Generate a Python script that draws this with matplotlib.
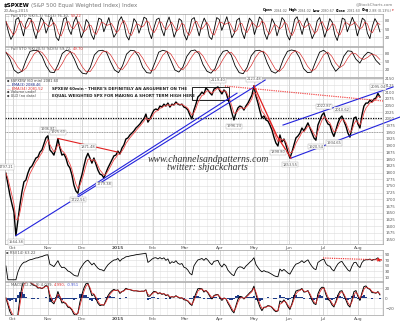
import numpy as np
import pandas as pd
import matplotlib
matplotlib.use('Agg')
import matplotlib.pyplot as plt
from matplotlib.patches import Rectangle

W, H = 400, 323

# 60 min closes of $SPXEW, late Sep 2014 .. 20 Aug 2015 (thinned)
close = np.array([
    1797.21, 1757, 1716, 1683, 1653, 1564.38, 1623, 1679, 1727, 1765,
    1772, 1798, 1817, 1824, 1839, 1854, 1858, 1876, 1884, 1906,
    1929, 1936.81, 1884, 1876, 1865, 1891, 1925.60, 1891, 1865, 1869,
    1854, 1828, 1817, 1791, 1753, 1731, 1722.56, 1765, 1791, 1824,
    1854, 1871.48, 1854, 1835, 1854, 1832, 1809, 1794, 1791, 1779.38,
    1798, 1817, 1832, 1847, 1862, 1865, 1880, 1869, 1891, 1903,
    1925, 1929, 1940, 1947, 1955, 1966, 1973, 1981, 1992, 2000,
    2018, 1988, 2000, 2018, 2033, 2037, 2033, 2048, 2044, 2055,
    2048, 2059, 2044, 2055, 2052, 2063, 2055, 2052, 2055, 2044,
    2041, 2033, 2014, 2000, 2033, 2055, 2082, 2089, 2100, 2093,
    2115, 2108, 2097, 2089, 2111, 2115, 2119.40, 2104, 2093, 2108,
    2100, 2074, 2052, 2022, 1996.24, 2022, 2041, 2048, 2044, 2033,
    2048, 2059, 2074, 2089, 2123.48, 2085, 2059, 2029, 2003, 2011,
    1996, 1992, 1977, 1959, 1932, 1910, 1898.80, 1940, 1914, 1925,
    1903, 1876, 1853.55, 1876, 1903, 1929, 1936, 1947, 1966, 1955,
    1970, 1985, 1966, 1947, 1929, 1920.54, 1977, 1996, 2014, 2022.87,
    1996, 1981, 1977, 1951, 1934.65, 1959, 1985, 2003, 2010.62, 1992,
    1973, 1947, 1932, 1966, 2003, 2007, 1981, 1966, 2014, 2048,
    2059, 2059, 2070, 2063, 2074, 2078, 2095.04, 2081.60])
# days after 1 Oct 2014, hourly bars evenly spaced
day = np.linspace(-6.2, 323.0, len(close))

# fast stochastic %K (top pane) and slow stochastic %K (second pane)
fast_k = [78, 40, 12, 30, 85, 92, 60, 25, 70, 90, 88, 45, 15, 55, 92, 80, 35, 60, 94, 70,
          20, 8, 45, 88, 92, 50, 30, 75, 95, 60, 18, 40, 85, 72, 30, 12, 50, 90, 85, 40,
          65, 92, 55, 20, 35, 80, 95, 70, 25, 10, 45, 88, 75, 35, 60, 93, 88, 40, 15, 55,
          85, 90, 50, 25, 70, 94, 62, 20, 45, 88, 80, 30, 10, 40, 85, 92, 58, 25, 65, 90,
          70, 22, 12, 50, 92, 85, 45, 70, 95, 60, 18, 35, 82, 90, 40, 15, 55, 90, 78, 30,
          60, 94, 85, 35, 12, 45, 88, 70, 25, 55, 92, 80, 28, 10, 40, 85, 95, 65, 30, 70,
          90, 50, 15, 35, 80, 92, 60, 20, 50, 88, 75, 30, 8, 45, 90, 85, 40, 65, 93, 70,
          25, 55, 90, 82, 35, 15, 60, 88, 72, 40]
slow_k = [85, 60, 20, 8, 15, 55, 88, 92, 90, 70, 35, 12, 10, 40, 80, 92, 88, 60, 25, 8,
          5, 30, 75, 90, 92, 85, 50, 20, 10, 35, 78, 92, 90, 70, 30, 10, 8, 45, 85, 92,
          88, 55, 20, 12, 30, 70, 90, 93, 80, 40, 15, 8, 25, 65, 88, 92, 75, 35, 10, 6,
          30, 72, 90, 92, 85, 45, 15, 8, 20, 60, 88, 93, 90, 65, 25, 10, 12, 50, 85, 92,
          80, 40, 15, 30, 70, 90, 88, 60, 45, 70, 85, 80, 55, 40]
fast_day = np.linspace(-6.2, 323.0, len(fast_k))
slow_day = np.linspace(-6.2, 323.0, len(slow_k))

month_days = [0, 31, 61, 92, 123, 151, 182, 212, 243, 273, 304]
month_names = ['Oct', 'Nov', 'Dec', '2015', 'Feb', 'Mar', 'Apr', 'May', 'Jun', 'Jul', 'Aug']
week_days = np.arange(-4, 326, 7)
price_ticks = np.arange(1550, 2151, 25)

# turning points that get a value tag
tag_idx = [0, 5, 21, 26, 36, 41, 49, 106, 114, 124, 136, 142, 155, 159, 164, 168, 186]
tag_up = [1, 0, 1, 1, 0, 1, 0, 1, 0, 1, 0, 0, 0, 1, 0, 1, 1]

# hand drawn trendlines (day, price)
blue_long = ([2.6, 222.0], [1564.4, 2145.0])
blue_short = ([57.2, 197.2], [1716.0, 2096.0])
red_dec = ([39.6, 92.4], [1927.0, 1876.0])
red_top = ([186.6, 325.7], [2122.6, 2066.7])
red_may = ([212.1, 232.4, 244.7], [2123.5, 1936.0, 1854.0])
chan_low = ([244.7, 340.7], [1853.6, 2007.0])
chan_high = ([237.7, 334.5], [1977.0, 2119.0])
level_black = 2003.3
level_gray = 1952.0
box_days = (157.6, 190.1)
box_prices = (2070.4, 2118.9)
rsi_arrow = ([272.9, 324.8], [79.0, 72.0])

# indicators
s = pd.Series(close)
ema = s.ewm(span=3, adjust=False).mean()
fast_d = pd.Series(fast_k).rolling(3, min_periods=1).mean()
slow_d = pd.Series(slow_k).rolling(3, min_periods=1).mean()

delta = s.diff().fillna(0)
gain = delta.clip(lower=0).ewm(alpha=1 / 6, adjust=False).mean()
loss = (-delta.clip(upper=0)).ewm(alpha=1 / 6, adjust=False).mean()
rsi = (100 - 100 / (1 + gain / loss.replace(0, np.nan))).fillna(50)

macd = s.ewm(span=2, adjust=False).mean() - s.ewm(span=5, adjust=False).mean()
signal = macd.ewm(span=2, adjust=False).mean()
hist = macd - signal

fig = plt.figure(figsize=(4, 3.23), dpi=100)
fig.patch.set_facecolor('white')


def panel(top, bottom):
    return fig.add_axes([5 / W, 1 - bottom / H, 378 / W, (bottom - top) / H])


axA = panel(14, 46)
axB = panel(47, 77)
ax = panel(78, 244)
axR = panel(250, 281)
axM = panel(282, 315)

for a in (axA, axB, ax, axR, axM):
    a.set_xlim(-7.0, 325.7)
    a.set_xticks(month_days)
    a.set_xticks(week_days, minor=True)
    a.grid(which='major', axis='x', color='#c4c4c4', lw=0.5)
    a.grid(which='minor', axis='x', color='#e6e6e6', lw=0.4)
    a.grid(which='major', axis='y', color='#dadada', lw=0.4)
    a.yaxis.tick_right()
    a.tick_params(which='both', length=0, labelbottom=False, labelleft=False,
                  labelright=True, labelsize=3, labelcolor='#555555', pad=1.5)
    for sp in a.spines.values():
        sp.set_color('#a0a0a0')
        sp.set_linewidth(0.5)
    a.set_axisbelow(True)

for a in (ax, axM):
    a.tick_params(axis='x', labelbottom=True, labelsize=3.2, pad=1.2)
    a.set_xticklabels(month_names)
    for lbl in a.get_xticklabels():
        if lbl.get_text() == '2015':
            lbl.set_fontweight('bold')

# stochastics
axA.set_ylim(-12, 105)
axA.set_yticks([20, 50, 80])
axA.plot(fast_day, fast_k, color='black', lw=0.6)
axA.plot(fast_day, fast_d, color='#d42020', lw=0.45)
axB.set_ylim(-6, 104)
axB.set_yticks([20, 50, 80])
axB.plot(slow_day, slow_k, color='black', lw=0.6)
axB.plot(slow_day, slow_d, color='#d42020', lw=0.45)

# price
ax.set_ylim(1533.3, 2152.5)
ax.set_yticks(price_ticks)
ax.tick_params(axis='y', labelsize=2.8)
ax.axhline(level_gray, color='#888888', lw=0.6, ls=(0, (1, 1)))
ax.axhline(level_black, color='black', lw=0.9, ls=(0, (1, 1)))
ax.plot(day, close, color='black', lw=1.0)
ax.plot(day, ema, color='#f04848', lw=0.6)

ax.plot(*blue_long, color='#2222dd', lw=0.8, clip_on=False)
ax.plot(*blue_short, color='#2222dd', lw=0.8, clip_on=False)
ax.plot(*chan_low, color='#2222dd', lw=0.8, clip_on=False)
ax.plot(*chan_high, color='#2222dd', lw=0.8, clip_on=False)
ax.plot(*red_dec, color='#e02020', lw=0.8)
ax.plot(*red_may, color='#e02020', lw=0.9)
ax.plot(*red_top, color='#f03030', lw=0.8, ls=(0, (1, 1)), clip_on=False)
ax.add_patch(Rectangle((box_days[0], box_prices[0]), box_days[1] - box_days[0],
                       box_prices[1] - box_prices[0], fill=False, ec='black', lw=0.6))

for i, up in zip(tag_idx, tag_up):
    ax.annotate(f'{close[i]:.2f}', (day[i], close[i]), xytext=(0, 3.2 if up else -3.2),
                textcoords='offset points', ha='center', va='bottom' if up else 'top',
                fontsize=2.6, color='#555555',
                bbox=dict(boxstyle='square,pad=0.2', fc='white', ec='#aaaaaa', lw=0.3))

# RSI
axR.set_ylim(-4.5, 108)
axR.set_yticks([10, 30, 50, 70, 90])
axR.plot(day, rsi, color='black', lw=0.6)
axR.plot(*rsi_arrow, color='#ee2020', lw=0.8, ls=(0, (1, 1)), clip_on=False)
axR.annotate('', xy=(rsi_arrow[0][1] + 2, rsi_arrow[1][1]),
             xytext=(rsi_arrow[0][1] - 3, rsi_arrow[1][1] + 0.5),
             arrowprops=dict(arrowstyle='-|>', color='#ee2020', lw=0.6,
                             mutation_scale=5), annotation_clip=False)

# MACD
axM.set_ylim(-34, 32)
axM.set_yticks([-20, 0, 20])
axM.bar(day, hist, width=1.76, color='#1f3c88')
axM.plot(day, macd, color='black', lw=0.7)
axM.plot(day, signal, color='#e02828', lw=0.55)


def row(x, y, parts, size, right=False, gap=1.2):
    # lay out coloured pieces of one text line side by side
    r = fig.canvas.get_renderer()
    placed = []
    for txt, color, weight in parts:
        t = fig.text(x / W, 1 - y / H, txt, fontsize=size, color=color,
                     fontweight=weight, ha='left', va='center')
        placed.append((t, x))
        x += t.get_window_extent(r).width + gap
    if right:
        total = x - gap - placed[0][1]
        for t, x0 in placed:
            t.set_x((x0 - total) / W)


# header
row(4, 5, [('$SPXEW', 'black', 'bold'),
           ('(S&P 500 Equal Weighted Index) Index', '#777777', 'normal')], 4.0)
fig.text(4 / W, 1 - 11 / H, '20-Aug-2015', fontsize=2.8, color='#666666', va='center')
fig.text(393 / W, 1 - 4 / H, '@StockCharts.com', fontsize=2.8, color='#777777',
         ha='right', va='center')
row(394, 10.5, [('Open', 'black', 'bold'), ('2084.02', '#666666', 'normal'),
                ('High', 'black', 'bold'), ('2084.02', '#666666', 'normal'),
                ('Low', 'black', 'bold'), ('2080.67', '#666666', 'normal'),
                ('Close', 'black', 'bold'), ('2081.60', '#666666', 'normal'),
                ('Chg', 'black', 'bold'), ('2.88 (0.13%)', '#666666', 'normal'),
                ('\u25be', '#cc0000', 'normal')], 2.4, right=True, gap=0.9)

# panel captions
row(6, 16, [('\u2014 Full STO %K(5,3) %D(3) 76.30,', '#555555', 'normal'),
            ('59.22', '#e03030', 'normal')], 2.7)
row(6, 49.5, [('\u2014 Full STO %K(20,5) %D(5) 59.72,', '#555555', 'normal'),
              ('49.70', '#e03030', 'normal')], 2.7)
row(6, 253, [('\u25aa RSI(14) 63.22', '#555555', 'normal')], 2.7)
row(6, 285, [('\u2014 MACD(12,26,9) 4.039,', '#555555', 'normal'),
             ('4.990,', '#e03030', 'normal'), ('-0.951', '#4050d0', 'normal')], 2.7)

# price legend
row(7, 81, [('\u25aa $SPXEW (60 min) 2081.60', '#444444', 'normal')], 2.6)
row(7, 85, [('\u2014 EMA(3) 2088.46', '#1f2f8f', 'normal')], 2.6)
row(7, 88.8, [('\u2014 EMA(34) 2081.52', '#e03030', 'normal')], 2.6)
row(7, 92.4, [('\u25aa Volume undef', '#444444', 'normal')], 2.6)
row(7, 96, [('\u25aa ULD (no data)', '#444444', 'normal')], 2.6)

# chart notes
fig.text(52 / W, 1 - 89.5 / H, "SPXEW 60min - THERE'S DEFINITELY AN ARGUMENT ON THE",
         fontsize=2.9, fontweight='bold', color='#202020', va='center')
fig.text(52 / W, 1 - 95.5 / H, 'EQUAL WEIGHTED SPX FOR MAKING A SHORT TERM HIGH HERE',
         fontsize=2.9, fontweight='bold', color='#202020', va='center')
fig.text(148 / W, 1 - 159 / H, 'www.channelsandpatterns.com', family='Liberation Serif',
         style='italic', fontsize=7, color='#333333', va='center')
fig.text(167 / W, 1 - 168 / H, 'twitter: shjackcharts', family='Liberation Serif',
         style='italic', fontsize=7, color='#333333', va='center')

fig.savefig('out.png', dpi=100, facecolor='white')
